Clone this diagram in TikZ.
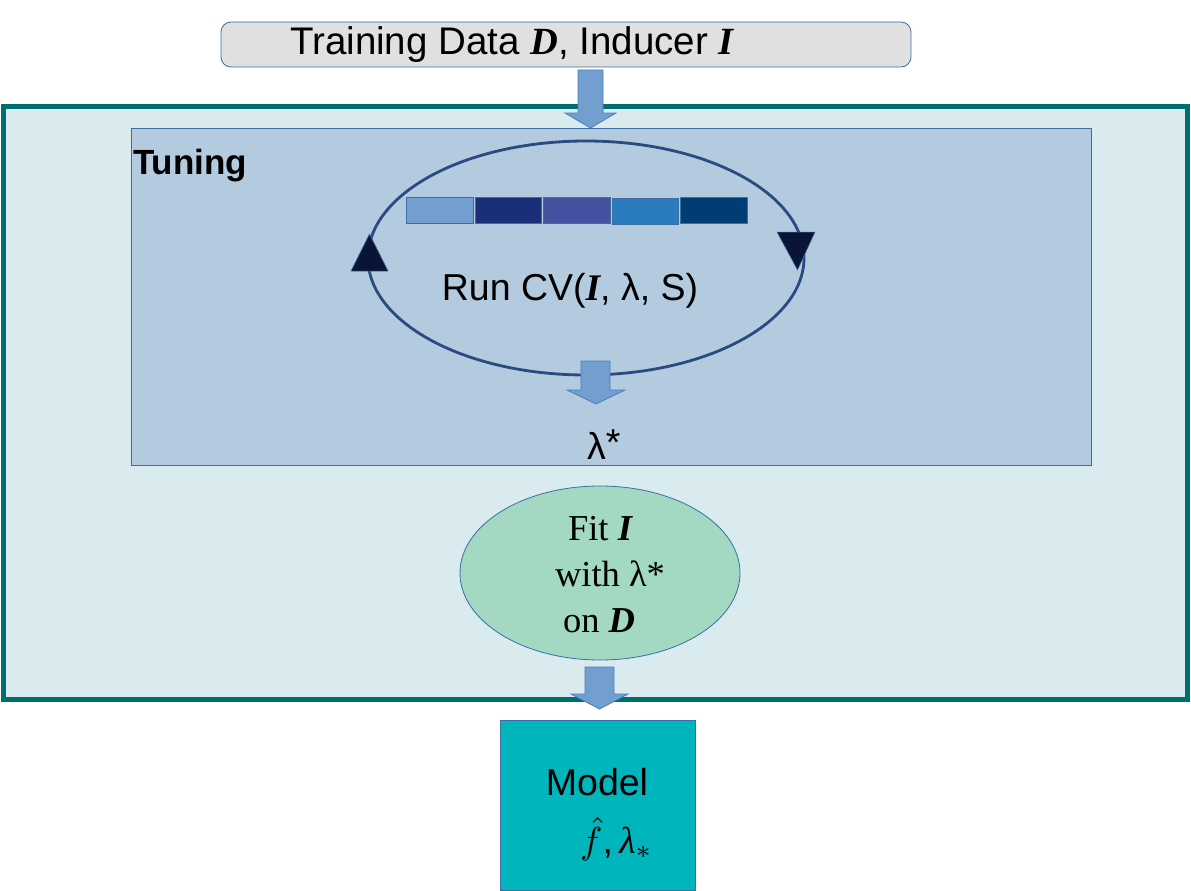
\documentclass[tikz,border=0pt]{standalone}
\usepackage{fontspec}
\setmainfont{Liberation Sans}
\newfontfamily\serifft{Liberation Serif}
\usetikzlibrary{shapes.geometric}
\definecolor{topfill}{HTML}{E0E0E0}
\definecolor{edgeblue}{HTML}{3A6EA5}
\definecolor{outerfill}{HTML}{DAEBEF}
\definecolor{outeredge}{HTML}{006D6F}
\definecolor{tunefill}{HTML}{B4CADF}
\definecolor{cycleline}{HTML}{2A4A82}
\definecolor{trifill}{HTML}{0A1535}
\definecolor{arrfill}{HTML}{729FCF}
\definecolor{arredge}{HTML}{4A7EBB}
\definecolor{barA}{HTML}{729FCF}
\definecolor{barB}{HTML}{1B2E7A}
\definecolor{barC}{HTML}{4450A0}
\definecolor{barD}{HTML}{2B7BBF}
\definecolor{barE}{HTML}{003D75}
\definecolor{fitfill}{HTML}{A3D8C3}
\definecolor{modelfill}{HTML}{00B5BC}
\newcommand{\bI}{{\serifft\bfseries\itshape I}}
\newcommand{\bD}{{\serifft\bfseries\itshape D}}
\begin{document}
\begin{tikzpicture}[x=1pt,y=-1pt,
  big/.style={font=\fontsize{37.5}{44}\selectfont},
  box/.style={draw=edgeblue, line width=0.8pt, inner sep=0pt},
  barbox/.style={draw=edgeblue, line width=0.8pt, minimum width=66pt, minimum height=25pt, inner sep=0pt},
  blockarrow/.style={fill=arrfill, draw=arredge, line width=0.8pt},
  tri/.style={fill=trifill, draw=edgeblue, line width=0.5pt}]
\path[use as bounding box] (0,0) rectangle (1191,891);

% outer frame
\node[draw=outeredge, line width=5pt, fill=outerfill, minimum width=1184pt, minimum height=593pt, inner sep=0pt] (outer) at (595.5,402.5) {};
% tuning box
\node[box, fill=tunefill, minimum width=960pt, minimum height=337pt] (tuning) at (611,296.5) {};
\node[anchor=base west, inner sep=0pt, font=\bfseries\fontsize{35}{40}\selectfont] (tunelabel) at (133,174) {Tuning};

% cycle
\node[ellipse, draw=cycleline, line width=2.8pt, minimum width=436pt, minimum height=234pt, inner sep=0pt] (cycle) at (586,258) {};
\node[barbox, fill=barA, minimum width=67pt, minimum height=26pt] (b1) at (439.5,210) {};
\node[barbox, fill=barB, minimum width=66pt, minimum height=26pt] (b2) at (508,210) {};
\node[barbox, fill=barC, minimum width=67pt, minimum height=26pt] (b3) at (576.5,210) {};
\node[barbox, fill=barD, minimum width=66pt, minimum height=26pt] (b4) at (645,211) {};
\node[barbox, fill=barE, minimum width=67pt, minimum height=26pt] (b5) at (713.5,210) {};
\fill[tri] (369.5,234) -- (388,271) -- (351,271) -- cycle;
\fill[tri] (777,232) -- (815,232) -- (797.5,270) -- cycle;
\node[big, anchor=base, inner sep=0pt] (runcv) at (570,300) {Run CV(\bI, λ, S)};

% arrow from cycle to lambda*
\fill[blockarrow] (581,361) -- (610,361) -- (610,390) -- (625,390) -- (596,404) -- (567,390) -- (581,390) -- cycle;
\node[big, anchor=base west, inner sep=0pt] (lamstar) at (587,459) {λ\raisebox{4pt}{*}};

% top input box
\node[box, fill=topfill, rounded corners=10pt, minimum width=690pt, minimum height=45pt] (input) at (566,44.5) {};
\node[anchor=base, inner sep=0pt, font=\fontsize{38.5}{44}\selectfont] (inputtxt) at (512,55) {Training Data \bD, Inducer \bI};
\fill[blockarrow] (578,70) -- (603,70) -- (603,113) -- (616,113) -- (590.5,128) -- (565,113) -- (578,113) -- cycle;

% fit ellipse
\node[ellipse, box, fill=fitfill, minimum width=280pt, minimum height=174pt] (fit) at (600,573) {};
\node[align=center, inner sep=0pt, font=\serifft\fontsize{36.5}{46}\selectfont] (fittxt) at (600,575) {Fit \bI\\\hspace{20pt}with λ*\\\hspace{-2pt}on \bD};

\fill[blockarrow] (585,667) -- (614,667) -- (614,694) -- (628,694) -- (599.5,709) -- (571,694) -- (585,694) -- cycle;

% model
\node[box, fill=modelfill, minimum width=195pt, minimum height=170pt] (model) at (597.5,805) {};
\node[big, anchor=base, inner sep=0pt] (modeltxt) at (597,795) {Model};
\node[anchor=base west, inner sep=0pt] (modelmath) at (580,853) {\scalebox{3.75}{$\hat{f}$,\,{\serifft\itshape λ}$_{*}$}};
\end{tikzpicture}
\end{document}
